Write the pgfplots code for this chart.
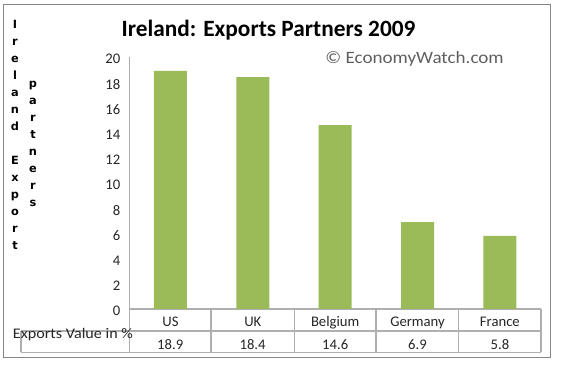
\documentclass[border=0pt]{standalone}
\usepackage{pgfplots}
\pgfplotsset{compat=1.18}
\usepackage{fontspec}
\setmainfont{Carlito}
\newfontfamily\wfont{Carlito}[FakeStretch=1.1]
\newfontfamily\vfont{DejaVu Sans}
\definecolor{bargreen}{RGB}{155,187,89}
\definecolor{linegray}{RGB}{175,175,175}
\definecolor{bordergray}{RGB}{134,134,134}
\definecolor{wmgray}{RGB}{95,95,95}
\pgfplotstableread{
x   y     name
0.5 18.9  US
1.5 18.4  UK
2.5 14.6  Belgium
3.5 6.9   Germany
4.5 5.8   France
}\datatable
\begin{document}
\begin{tikzpicture}
\begin{axis}[
  scale only axis, width=308.8pt, height=189pt,
  xmin=0, xmax=5, ymin=0, ymax=20,
  axis x line*=bottom, axis y line*=left,
  axis line style={draw=linegray, line width=0.9pt},
  xtick={0.5,1.5,2.5,3.5,4.5},
  xticklabels={US,UK,Belgium,Germany,France},
  ytick={0,2,...,20},
  major tick length=0pt,
  tick label style={font=\fontsize{11}{13}\selectfont, text=black!85},
  /pgf/number format/assume math mode=true,
  xticklabel style={anchor=base, yshift=-13.1pt},
  yticklabel style={anchor=east, xshift=-3.3pt, yshift=-1.5pt},
  clip=false,
]
\addplot[ybar, bar width=24.75pt, fill=bargreen, draw=none] table[x=x, y=y] {\datatable};
\end{axis}
\begin{scope}[x=0.75pt, y=-0.75pt, shift={(-129.3,-309)}]
  \path (0,0) rectangle (566,377);
  \draw[bordergray, line width=0.75pt] (4,5) rectangle (550,358);
  % table
  \draw[linegray, line width=0.9pt] (21,331) -- (541,331);
  \draw[linegray, line width=0.9pt] (21,352.3) -- (541,352.3);
  \draw[linegray, line width=0.9pt] (21,331) -- (21,352.3);
  \draw[linegray, line width=0.9pt] (129.3,309) -- (129.3,352.3);
  \foreach \xx in {211,294.3,376,458.7,541}
    \draw[linegray, line width=0.9pt] (\xx,309) -- (\xx,352.3);
  \node[anchor=base west, inner sep=0pt, font=\wfont\fontsize{11}{13}\selectfont, text=black!85] at (12.7,339) {Exports Value in \%};
  \foreach \xx/\v in {170.2/18.9, 252.6/18.4, 335.2/14.6, 417.4/6.9, 499.9/5.8}
    \node[anchor=base, inner sep=0pt, font=\fontsize{11}{13}\selectfont, text=black!85] at (\xx,350) {\v};
  % title
  \node[anchor=base, inner sep=0pt, font=\bfseries\fontsize{17.5}{21}\selectfont] at (268.5,37) {Ireland: Exports Partners 2009};
  \node[anchor=base east, inner sep=0pt, font=\wfont\fontsize{13}{15}\selectfont, text=wmgray] at (504,64) {© EconomyWatch.com};
  % vertical letters
  \foreach \c [count=\i] in {I,r,e,l,a,n,d,{},E,x,p,o,r,t}
    \node[anchor=base, inner sep=0pt, font=\vfont\bfseries\fontsize{8.5}{10}\selectfont] at ({15},{29+17*(\i-1)}) {\c};
  \foreach \c [count=\i] in {p,a,r,t,n,e,r,s}
    \node[anchor=base, inner sep=0pt, font=\vfont\bfseries\fontsize{8.5}{10}\selectfont] at ({33},{88+17*(\i-1)}) {\c};
\end{scope}
\end{tikzpicture}
\end{document}
